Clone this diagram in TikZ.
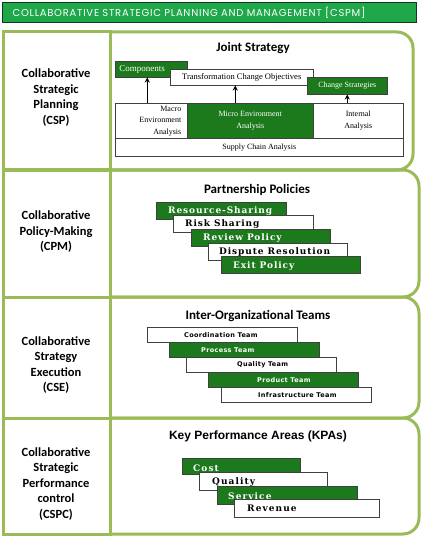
\documentclass[tikz,border=0pt]{standalone}
\usetikzlibrary{arrows.meta}
\usepackage{fontspec}
\setmainfont{Liberation Serif}
\newfontfamily\labfont{Carlito}
\newfontfamily\headfont[LetterSpace=7.5]{Poppins}
\newfontfamily\kpafont{Liberation Sans}
\newfontfamily\boxserif[LetterSpace=10]{DejaVu Serif}
\newfontfamily\kpaserif[LetterSpace=12]{DejaVu Serif}
\newfontfamily\teamfont[LetterSpace=5]{DejaVu Sans}
\definecolor{framegreen}{HTML}{9BBB59}
\definecolor{boxgreen}{RGB}{28,122,28}
\definecolor{titlegreen}{HTML}{1FA84A}
\definecolor{titleborder}{HTML}{14361C}
\begin{document}
\begin{tikzpicture}[x=1pt,y=-1pt,
  frame/.style={draw=framegreen, line width=3pt},
  boxbase/.style={draw=black!75, line width=0.5pt, inner sep=0pt, anchor=north west},
  gbox/.style={boxbase, fill=boxgreen, text=white},
  wbox/.style={boxbase, fill=white, text=black},
  lab/.style={font=\labfont\bfseries\fontsize{12.5}{15.5}\selectfont, align=center},
  ptitle/.style={font=\labfont\bfseries\fontsize{13}{15}\selectfont},
  stext/.style={font=\fontsize{8}{11.5}\selectfont},
  ptext/.style={font=\boxserif\bfseries\fontsize{9}{10}\selectfont, anchor=base west, inner sep=0pt},
  tbox/.style={minimum width=150pt, minimum height=15pt},
  ttext/.style={font=\teamfont\bfseries\fontsize{6.5}{7}\selectfont, anchor=west, inner sep=0pt},
  ktext/.style={font=\kpaserif\bfseries\fontsize{9}{10}\selectfont, anchor=base west, inner sep=0pt},
  arr/.style={-{Stealth[length=5pt,width=5pt]}, line width=1.5pt, black}
]
\useasboundingbox (0,0) rectangle (423,540);

% title bar
\node[draw=titleborder, fill=titlegreen, line width=1.2pt, anchor=north west,
      minimum width=414pt, minimum height=20pt, inner xsep=10pt, inner ysep=0pt,
      text width=394pt, align=left, text=white,
      font=\headfont\fontsize{10}{11}\selectfont] (title) at (2,2)
      {COLLABORATIVE STRATEGIC PLANNING AND MANAGEMENT [CSPM]};

% row frames
\draw[frame] (3.5,32) rectangle (110,170);
\draw[frame, rounded corners=16pt] (110,32) -- (413,32) -- (413,170) -- (110,170);
\draw[frame] (3.5,170) rectangle (110,297);
\draw[frame, rounded corners=16pt] (110,170) -- (419,170) -- (419,297) -- (110,297);
\draw[frame] (3.5,297) rectangle (110,418);
\draw[frame, rounded corners=16pt] (110,297) -- (419,297) -- (419,418) -- (110,418);
\draw[frame] (3.5,418) rectangle (110,534);
\draw[frame, rounded corners=16pt] (110,418) -- (419,418) -- (419,534) -- (110,534);

% left labels
\node[lab] (csp) at (56,97.5) {Collaborative\\Strategic\\Planning\\(CSP)};
\node[lab] (cpm) at (56,232) {Collaborative\\Policy-Making\\(CPM)};
\node[lab] (cse) at (56,365) {Collaborative\\Strategy\\Execution\\(CSE)};
\node[lab] (cspc) at (56,484) {Collaborative\\Strategic\\Performance\\control\\(CSPC)};

% ---- row 1: Joint Strategy
\node[ptitle] (js) at (253,48) {Joint Strategy};
\node[gbox, minimum width=72pt, minimum height=16pt, text width=64pt, inner xsep=4pt, align=left,
      font=\fontsize{9}{10}\selectfont] (comp) at (115,61) {Components};
\node[wbox, minimum width=143pt, minimum height=16pt, font=\fontsize{8.5}{10}\selectfont] (trans) at (170,69) {Transformation Change Objectives};
\node[gbox, minimum width=80pt, minimum height=17pt, stext] (chg) at (307,77) {Change Strategies};
\node[wbox, minimum width=72pt, minimum height=35pt, stext, text width=60pt, align=right] (macro) at (115,103) {Macro\\Environment\\Analysis};
\node[gbox, minimum width=126pt, minimum height=35pt, stext, align=center] (micro) at (187,103) {Micro Environment\\Analysis};
\node[wbox, minimum width=90pt, minimum height=35pt, stext, align=center] (intern) at (313,103) {Internal\\Analysis};
\node[wbox, minimum width=288pt, minimum height=18pt, stext] (supply) at (115,138) {Supply Chain Analysis};
\draw[arr] ([xshift=-4pt]comp.south |- macro.north) -- ([xshift=-4pt]comp.south);
\draw[arr] ([xshift=-15pt]micro.north) -- ([xshift=-15pt]micro.north |- trans.south);
\draw[arr] (chg.south |- intern.north) -- (chg.south);

% ---- row 2: Partnership Policies
\node[ptitle] (pp) at (257,190) {Partnership Policies};
\node[gbox, minimum width=130pt, minimum height=17pt] (rs) at (156,202) {};
\node[ptext, text=white] (rst) at ([shift={(12,11.5)}]rs.north west) {Resource-Sharing};
\node[wbox, minimum width=140pt, minimum height=17pt] (risk) at (173,215) {};
\node[ptext, text=black] (riskt) at ([shift={(12,11.5)}]risk.north west) {Risk Sharing};
\node[gbox, minimum width=139pt, minimum height=17pt] (rev) at (191,229) {};
\node[ptext, text=white] (revt) at ([shift={(12,11.5)}]rev.north west) {Review Policy};
\node[wbox, minimum width=139pt, minimum height=17pt] (disp) at (208,243) {};
\node[ptext, text=black] (dispt) at ([shift={(11,11)}]disp.north west) {Dispute Resolution};
\node[gbox, minimum width=139pt, minimum height=17pt] (exit) at (221,256) {};
\node[ptext, text=white] (exitt) at ([shift={(12,12)}]exit.north west) {Exit Policy};

% ---- row 3: Inter-Organizational Teams
\node[ptitle] (iot) at (258,316) {Inter-Organizational Teams};
\node[wbox, tbox] (coord) at (147,327) {};
\node[ttext] (coordt) at ([xshift=37pt]coord.west) {Coordination Team};
\node[gbox, tbox] (proc) at (169,342) {};
\node[ttext, text=white] (proct) at ([xshift=32pt]proc.west) {Process Team};
\node[wbox, tbox] (qual) at (186,357) {};
\node[ttext] (qualt) at ([xshift=51pt]qual.west) {Quality Team};
\node[gbox, tbox] (prod) at (208,372) {};
\node[ttext, text=white] (prodt) at ([xshift=49pt]prod.west) {Product Team};
\node[wbox, tbox] (infra) at (221,387) {};
\node[ttext] (infrat) at ([xshift=37pt]infra.west) {Infrastructure Team};

% ---- row 4: KPAs
\node[font=\kpafont\bfseries\fontsize{12}{14}\selectfont] (kpa) at (258,436) {Key Performance Areas (KPAs)};
\node[gbox, minimum width=118pt, minimum height=16pt] (cost) at (182,458) {};
\node[ktext, text=white] (costt) at ([shift={(11,13.5)}]cost.north west) {Cost};
\node[wbox, minimum width=128pt, minimum height=18pt] (kq) at (199,472) {};
\node[ktext, text=black] (kqt) at ([shift={(13,12.5)}]kq.north west) {Quality};
\node[gbox, minimum width=140pt, minimum height=18pt] (serv) at (217,486) {};
\node[ktext, text=white] (servt) at ([shift={(11,13)}]serv.north west) {Service};
\node[wbox, minimum width=145pt, minimum height=18pt] (revn) at (234,499) {};
\node[ktext, text=black] (revnt) at ([shift={(13,12.5)}]revn.north west) {Revenue};
\end{tikzpicture}
\end{document}
